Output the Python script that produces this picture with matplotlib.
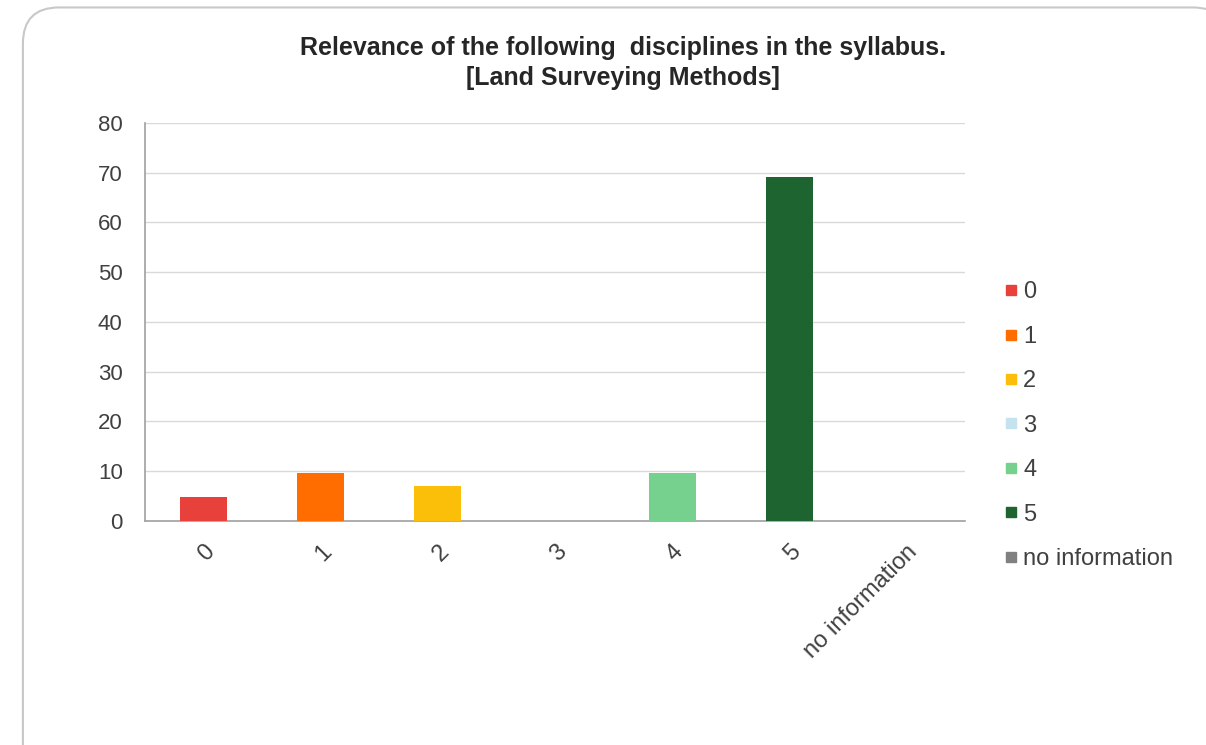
import matplotlib
matplotlib.use("Agg")
import matplotlib.pyplot as plt
from matplotlib.patches import FancyBboxPatch
from matplotlib.lines import Line2D

plt.rcParams['font.family'] = ['Liberation Sans', 'DejaVu Sans']

categories = ["0", "1", "2", "3", "4", "5", "no information"]
values = [4.8, 9.6, 7.1, 0, 9.6, 69.1, 0]
colors = ["#e8413c", "#ff6d00", "#fbbf0a", "#c5e3ee", "#76d18e", "#1e6430", "#808080"]
yticks = [0, 10, 20, 30, 40, 50, 60, 70, 80]

fig = plt.figure(figsize=(12.06, 7.45), dpi=100)
frame = FancyBboxPatch((0.019, -0.05), 1.0, 1.04, boxstyle="round,pad=0,rounding_size=0.03",
                       transform=fig.transFigure, facecolor="white", edgecolor="#c8c8c8",
                       linewidth=1.5, mutation_aspect=1206 / 745, zorder=-1)
fig.patches.append(frame)

ax = fig.add_axes([0.1202, 0.3007, 0.680, 0.5342])
ax.patch.set_alpha(0)
x = range(len(categories))
ax.bar(x, values, width=0.4, color=colors, zorder=3)
ax.set_xlim(-0.5, len(categories) - 0.5)
ax.set_ylim(0, 80)
ax.set_yticks(yticks)
ax.set_yticklabels([str(v) for v in yticks], fontsize=16, color="#404040")
ax.set_xticks(list(x))
ax.set_xticklabels(categories, rotation=45, fontsize=17, color="#404040",
                   ha="right", va="top", rotation_mode="anchor")
ax.tick_params(axis="y", length=0, pad=16)
ax.tick_params(axis="x", length=0, pad=14)
ax.grid(axis="y", color="#d9d9d9", linewidth=1, zorder=0)
for s in ["top", "right"]:
    ax.spines[s].set_visible(False)
ax.spines["left"].set_color("#a0a0a0")
ax.spines["bottom"].set_color("#a0a0a0")
ax.spines["left"].set_linewidth(1.2)
ax.spines["bottom"].set_linewidth(1.2)

fig.text(0.5165, 0.935, "Relevance of the following  disciplines in the syllabus.",
         ha="center", va="center", fontsize=18, fontweight="bold", color="#262626")
fig.text(0.5165, 0.895, "[Land Surveying Methods]",
         ha="center", va="center", fontsize=18, fontweight="bold", color="#262626")

handles = [Line2D([0], [0], marker="s", linestyle="none", markersize=7,
                  markerfacecolor=c, markeredgecolor=c) for c in colors]
leg = fig.legend(handles, categories, loc="upper left", bbox_to_anchor=(0.821, 0.635),
                 frameon=False, fontsize=17, handletextpad=0.0, labelspacing=0.95,
                 handlelength=1.0, borderaxespad=0)
for t in leg.get_texts():
    t.set_color("#404040")

fig.savefig("out.png", dpi=100)
